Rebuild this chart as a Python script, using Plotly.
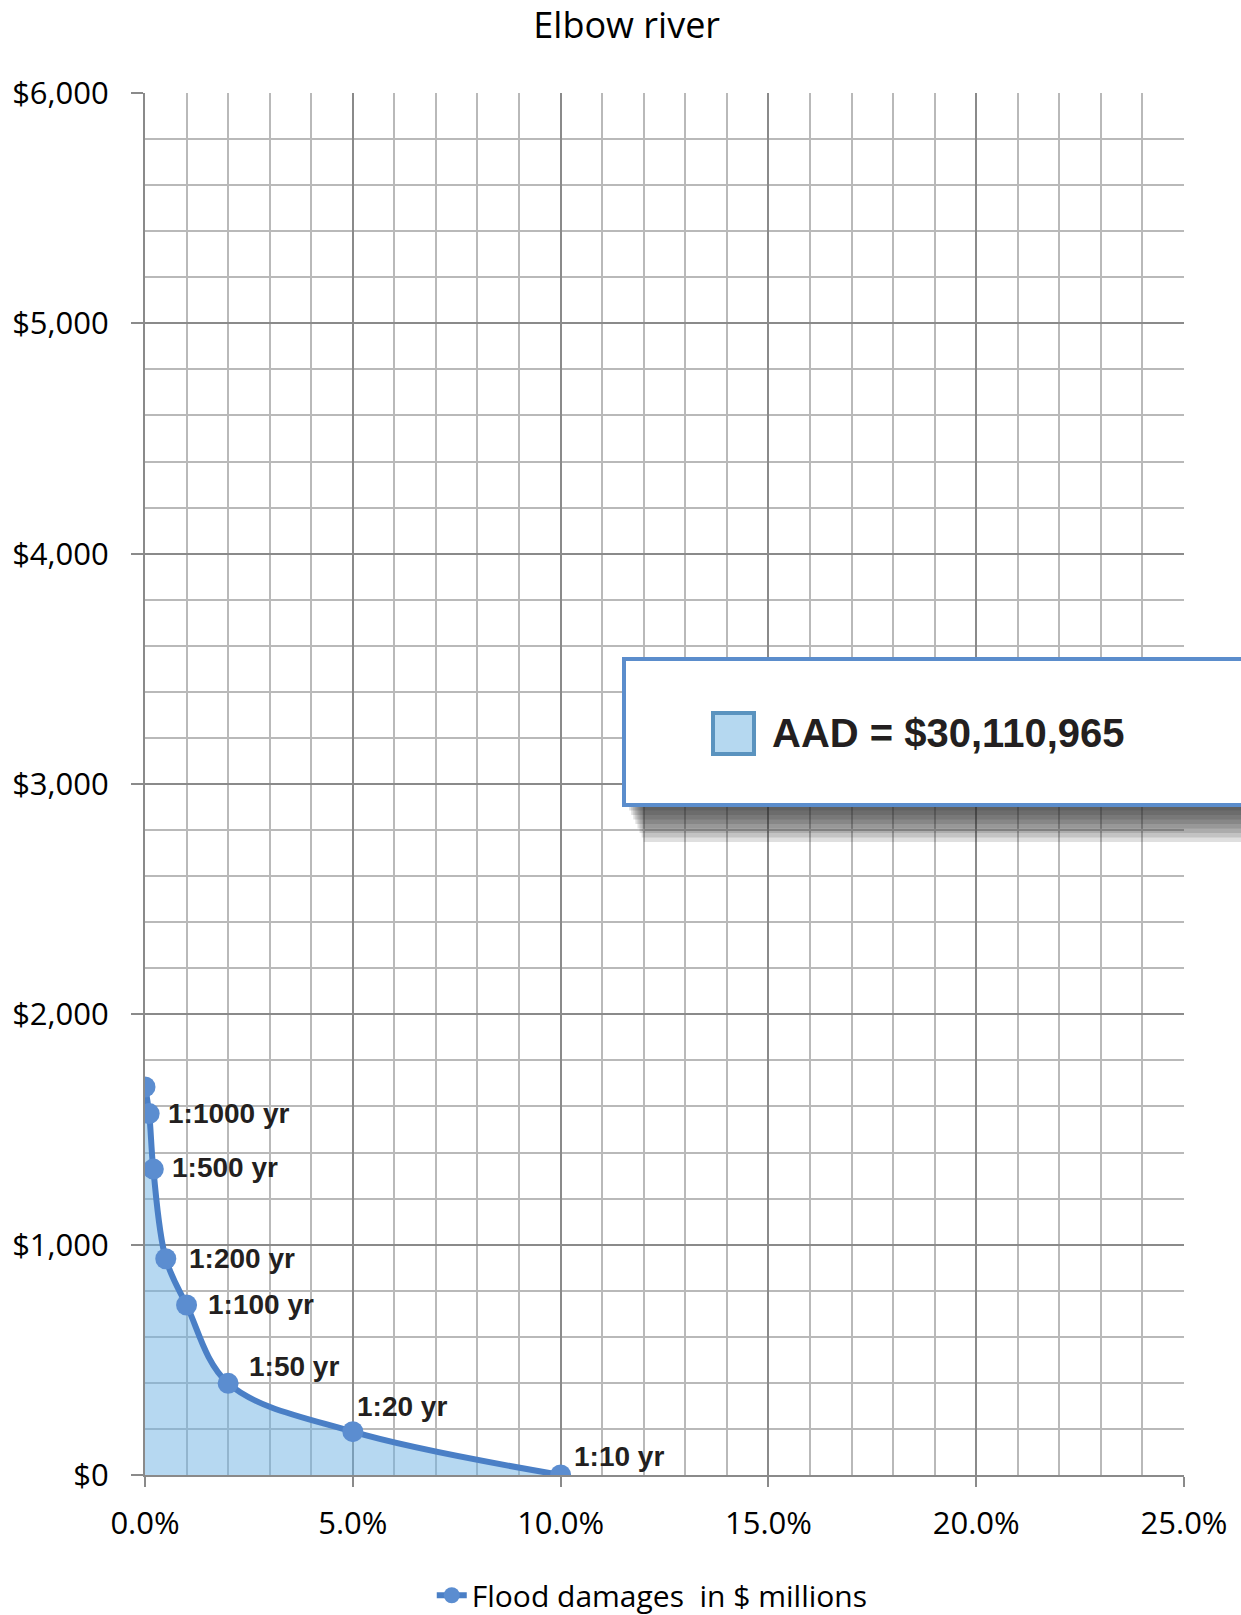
import plotly.graph_objects as go

# ---- data ----
exceedance_prob = [0.0, 0.001, 0.002, 0.005, 0.01, 0.02, 0.05, 0.10]
damages_musd = [1685, 1569, 1328, 939, 738, 398, 188, 0]
return_labels = ["", "1:1000 yr", "1:500 yr", "1:200 yr", "1:100 yr", "1:50 yr", "1:20 yr", "1:10 yr"]
label_dx = [0, 17, 17, 21, 19, 19, 2, 11]
label_dy = [0, 0, 2, 0, 1, 17, 25, 19]
series_name = "Flood damages\u00a0 in $ millions"
aad_text = "AAD = $30,110,965"
title_text = "Elbow river"

LINE = "#4a7fc6"
MARK = "#5b8dd0"
FONT = "Open Sans"

fig = go.Figure()
fig.add_trace(go.Scatter(
    x=exceedance_prob, y=damages_musd, mode="lines",
    line=dict(shape="spline", smoothing=1.0, width=0, color=LINE),
    fill="tozeroy", fillcolor="rgba(110,178,228,0.5)",
    showlegend=False, hoverinfo="skip"))
fig.add_trace(go.Scatter(
    x=exceedance_prob, y=damages_musd, mode="lines+markers", name=series_name,
    line=dict(shape="spline", smoothing=1.0, width=6, color=LINE),
    marker=dict(size=21, color=MARK)))

for x, y, t, dx, dy in zip(exceedance_prob, damages_musd, return_labels, label_dx, label_dy):
    if not t:
        continue
    fig.add_annotation(x=x, y=y, text=f"<b>{t}</b>", showarrow=False,
                       xanchor="left", yanchor="middle", xshift=dx, yshift=dy,
                       font=dict(family="Liberation Sans", size=28, color="#231f20"))

# AAD box with shadow
for i in range(8):
    fig.add_shape(type="rect", xref="paper", yref="paper",
                  x0=0.466 + 0.002 * i, x1=1.07, y0=(1475 - 806 - 4.5 * (i + 1)) / 1382, y1=(1475 - 805) / 1382,
                  fillcolor="rgba(40,40,40,0.15)", line=dict(width=0), layer="above")
fig.add_shape(type="rect", xref="paper", yref="paper",
              x0=(624 - 145) / 1039, x1=1.07, y0=(1475 - 805) / 1382, y1=(1475 - 659) / 1382,
              fillcolor="white", line=dict(color="#5b8dcc", width=4), layer="above")
fig.add_shape(type="rect", xref="paper", yref="paper",
              x0=(713 - 145) / 1039, x1=(754 - 145) / 1039, y0=(1475 - 754) / 1382, y1=(1475 - 713) / 1382,
              fillcolor="#b5d8f0", line=dict(color="#5a93bf", width=4), layer="above")
fig.add_annotation(xref="paper", yref="paper", x=(770 - 145) / 1039, y=(1475 - 733) / 1382,
                   text=f"<b>{aad_text}</b>", showarrow=False, xanchor="left", yanchor="middle",
                   font=dict(family="Liberation Sans", size=40, color="#231f20"))

axis_common = dict(showline=True, linecolor="#8a8a8a", linewidth=2,
                   showgrid=True, gridcolor="#8a8a8a", gridwidth=2,
                   ticks="outside", tickcolor="#8a8a8a", tickwidth=2,
                   zeroline=False, automargin=False,
                   tickfont=dict(family=FONT, size=31, color="black"))

fig.update_xaxes(range=[0, 0.25], dtick=0.05, tickformat=".1%", ticklen=10, ticklabelstandoff=10,
                 minor=dict(dtick=0.01, showgrid=True, gridcolor="#b9b9b9", gridwidth=2, ticks=""),
                 **axis_common)
fig.update_yaxes(range=[0, 6000], dtick=1000, tickprefix="$", tickformat=",", ticklen=12,
                 ticklabelstandoff=16,
                 minor=dict(dtick=200, showgrid=True, gridcolor="#b9b9b9", gridwidth=2, ticks=""),
                 **axis_common)

fig.update_layout(
    width=1241, height=1615,
    margin=dict(l=145, r=57, t=93, b=140, autoexpand=False),
    paper_bgcolor="white", plot_bgcolor="white",
    title=dict(text=title_text, x=0.505, xanchor="center", yref="container", y=1 - 25 / 1615,
               yanchor="middle", font=dict(family=FONT, size=36, color="black")),
    legend=dict(orientation="h", x=0.276, xanchor="left", y=-0.087, yanchor="middle",
                font=dict(family=FONT, size=30, color="black")),
    showlegend=True,
)

fig.write_html("out.html", config={"displayModeBar": False},
               post_script="document.body.style.margin='0';document.body.style.padding='0';")
